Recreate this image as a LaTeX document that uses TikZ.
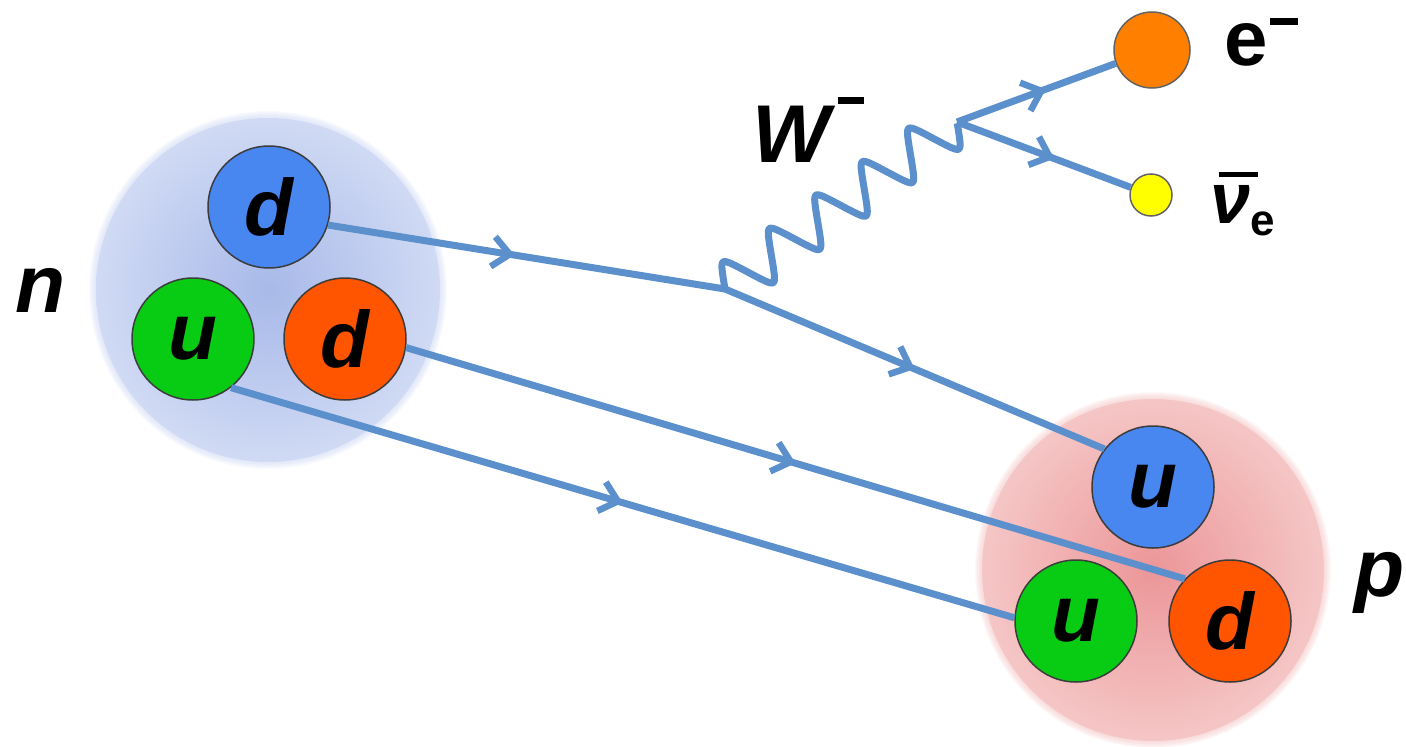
\documentclass[tikz,border=0pt]{standalone}
\usepackage{fontspec}
\setmainfont{Liberation Sans}
\usetikzlibrary{arrows.meta,calc,decorations.markings}

\definecolor{lineblue}{RGB}{92,144,204}
\definecolor{qblue}{RGB}{72,134,240}
\definecolor{qgreen}{RGB}{8,204,20}
\definecolor{qred}{RGB}{255,84,0}
\definecolor{eorange}{RGB}{255,128,0}
\definecolor{nuyellow}{RGB}{255,255,0}
\definecolor{rimgray}{RGB}{60,60,60}
\definecolor{nin}{RGB}{168,185,233}
\definecolor{nout}{RGB}{208,218,244}
\definecolor{pin}{RGB}{236,150,152}
\definecolor{pout}{RGB}{245,198,198}

\begin{document}
\begin{tikzpicture}[x=1pt,y=-1pt,
  quark/.style={circle, draw=rimgray, line width=1.5pt, minimum size=122pt, inner sep=0pt,
    font=\fontsize{80}{80}\selectfont\bfseries\itshape},
  lepton/.style={circle, draw=rimgray!80, line width=1.5pt, inner sep=0pt},
  fermion/.style={draw=lineblue, line width=7pt, postaction={decorate},
    decoration={markings, mark=at position #1 with {\arrow{Straight Barb[length=17pt,width=30pt,line width=6.5pt]}}}},
  fermion/.default=0.5,
  boson/.style={draw=lineblue, line width=7pt, line join=round},
  bigtxt/.style={inner sep=0pt, font=\fontsize{82}{82}\selectfont\bfseries\itshape},
]
\useasboundingbox (0,0) rectangle (1406,747);

% hadron clouds
\coordinate (nc) at (268,290);
\coordinate (pc) at (1153,570);
\foreach \k in {1,...,7} {
  \fill[nout, opacity=0.12] (nc) circle[radius=172+\k];
  \fill[pout, opacity=0.12] (pc) circle[radius=171+\k];
}
\shade[inner color=nin, outer color=nout] (nc) circle[radius=172];
\shade[inner color=pin, outer color=pout] (pc) circle[radius=171];

% quarks of the neutron
\node[quark, fill=qblue]  (dn1) at (269,207) {d};
\node[quark, fill=qgreen] (un)  at (193,339) {u};
\node[quark, fill=qred]   (dn2) at (345,339) {d};

% quarks of the proton
\node[quark, fill=qblue]  (up1) at (1153,487) {u};
\node[quark, fill=qgreen] (up2) at (1076,621) {u};
\node[quark, fill=qred]   (dp)  at (1230,621) {d};

% leptons
\node[lepton, fill=eorange, minimum size=76pt] (el) at (1152,50) {};
\node[lepton, fill=nuyellow, minimum size=42pt] (nu) at (1151,195) {};

% vertices
\coordinate (V) at (725,289);
\coordinate (Wt) at (957,122);

% fermion lines
\draw[fermion=0.47] (dn1.-17) -- (V);
\draw[fermion=0.5] (V) -- (up1.142);
\draw[fermion=0.5] (dn2.-8) -- (dp.137);
\draw[fermion=0.5] (un.-52) -- (up2.177);
\draw[fermion=0.56] (Wt) -- (el);
\draw[fermion=0.56] (Wt) -- (nu);

% W boson: rounded wave across the line V--Wt
\draw[boson] let \p1=(V), \p2=(Wt), \n1={veclen(\x2-\x1,\y2-\y1)} in
  plot[variable=\t, domain=0:1, samples=301, smooth]
  ({\x1+(\x2-\x1)*\t - 23*asin(0.9*sin(1800*\t))/64.16*(\y2-\y1)/\n1},
   {\y1+(\y2-\y1)*\t + 23*asin(0.9*sin(1800*\t))/64.16*(\x2-\x1)/\n1});

% labels
\node[bigtxt] (nlab) at (41,290) {n};
\node[bigtxt] (plab) at (1380,583) {p};
\node[bigtxt, anchor=base west] (Wlab) at (752,162) {W\hspace{8pt}\rule[58pt]{26pt}{7pt}};
\node[inner sep=0pt, anchor=base west, font=\fontsize{78}{78}\selectfont\bfseries] (elab) at (1224,65) {e\hspace{2pt}\rule[40pt]{28pt}{7pt}};
\node[inner sep=0pt, anchor=base west] (nulab) at (1210,223)
  {{\fontsize{72}{72}\selectfont\bfseries\itshape\rlap{\hspace{0.12em}\rule[0.64em]{0.55em}{0.075em}}ν}\raisebox{-12pt}{\fontsize{44}{44}\selectfont\bfseries e}};
\end{tikzpicture}
\end{document}
